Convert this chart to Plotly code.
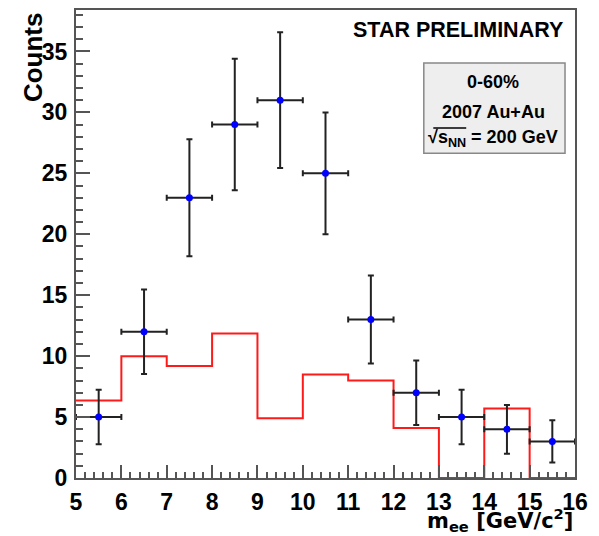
import plotly.graph_objects as go

# Dielectron invariant-mass spectrum: measured counts per 1 GeV/c^2 bin
bin_centers = [5.5, 6.5, 7.5, 8.5, 9.5, 10.5, 11.5, 12.5, 13.5, 14.5, 15.5]
counts = [5, 12, 23, 29, 31, 25, 13, 7, 5, 4, 3]
count_errors = [2.24, 3.46, 4.80, 5.39, 5.57, 5.00, 3.61, 2.65, 2.24, 2.00, 1.73]
bin_half_width = [0.5] * len(bin_centers)

# Red reference histogram (bin edges and bin contents)
hist_edges = [5, 6, 7, 8, 9, 10, 11, 12, 13, 14, 15, 16]
hist_values = [6.35, 10.0, 9.2, 11.85, 4.9, 8.5, 8.0, 4.1, 0.0, 5.7, 0.0]

FONT = "Liberation Sans, Arial, Helvetica, sans-serif"
WIDE_FONT = "DejaVu Sans, Verdana, sans-serif"
AXIS_COLOR = "#555555"

fig = go.Figure()

# step histogram: repeat the last content so the final bin closes at 16
fig.add_trace(go.Scatter(
    x=hist_edges,
    y=hist_values + [hist_values[-1]],
    mode="lines",
    line=dict(shape="hv", color="#ff1a1a", width=2),
    hoverinfo="skip",
    showlegend=False,
))

fig.add_trace(go.Scatter(
    x=bin_centers,
    y=counts,
    mode="markers",
    marker=dict(color="#0000ff", size=7),
    error_y=dict(type="data", array=count_errors, color="#222222",
                 thickness=2, width=3),
    error_x=dict(type="data", array=bin_half_width, color="#222222",
                 thickness=2, width=3),
    showlegend=False,
))

fig.update_xaxes(
    range=[5, 16],
    tickmode="linear", tick0=5, dtick=1,
    ticks="inside", ticklen=13, tickwidth=1.5, tickcolor=AXIS_COLOR,
    minor=dict(ticks="inside", dtick=0.2, ticklen=6, tickwidth=1.5,
               tickcolor=AXIS_COLOR),
    showline=True, linecolor=AXIS_COLOR, linewidth=2, mirror=True,
    showgrid=False, zeroline=False,
    tickfont=dict(family=FONT, size=23, color="black", weight="bold"),
    ticklabelstandoff=2,
)
fig.update_yaxes(
    range=[0, 38.4],
    tickmode="linear", tick0=0, dtick=5,
    ticks="inside", ticklen=14, tickwidth=1.5, tickcolor=AXIS_COLOR,
    minor=dict(ticks="inside", dtick=1, ticklen=7, tickwidth=1.5,
               tickcolor=AXIS_COLOR),
    showline=True, linecolor=AXIS_COLOR, linewidth=2, mirror=True,
    showgrid=False, zeroline=False,
    tickfont=dict(family=FONT, size=23, color="black", weight="bold"),
    ticklabelstandoff=2,
)


def bold(size, family=FONT):
    return dict(family=family, size=size, color="black", weight="bold")


BOX_X = 0.836
annotations = [
    # y-axis title, aligned at the top end of the axis
    dict(text="Counts", x=-0.086, y=1.0, xref="paper", yref="paper",
         xanchor="center", yanchor="top", textangle=-90, showarrow=False,
         font=bold(26)),
    # x-axis title, aligned at the right end of the axis
    dict(text="m<sub>ee</sub> [GeV/c<sup>2</sup>]", x=1.0, y=-0.1255,
         xref="paper", yref="paper", xanchor="right", yanchor="bottom",
         showarrow=False, font=bold(21, WIDE_FONT)),
    dict(text="STAR PRELIMINARY", x=0.98, y=0.957, xref="paper",
         yref="paper", xanchor="right", yanchor="middle", showarrow=False,
         font=bold(21.5)),
    dict(text="0-60%", x=BOX_X, y=0.847, xref="paper", yref="paper",
         xanchor="center", yanchor="middle", showarrow=False, font=bold(18)),
    dict(text="2007 Au+Au", x=BOX_X, y=0.783, xref="paper", yref="paper",
         xanchor="center", yanchor="middle", showarrow=False, font=bold(18)),
    dict(text="\u221As<sub>NN</sub> = 200 GeV", x=BOX_X, y=0.726,
         xref="paper", yref="paper", xanchor="center", yanchor="middle",
         showarrow=False, font=bold(18)),
]

shapes = [
    # info box
    dict(type="rect", xref="paper", yref="paper", x0=0.697, x1=0.980,
         y0=0.694, y1=0.887, fillcolor="#eeeeee",
         line=dict(color="#888888", width=1.5), layer="below"),
    # overline of the square-root sign above s_NN
    dict(type="line", xref="paper", yref="paper", x0=0.716, x1=0.782,
         y0=0.748, y1=0.748, line=dict(color="black", width=1.5)),
]

fig.update_layout(
    width=599, height=536,
    margin=dict(l=76, r=24, t=8, b=58),
    paper_bgcolor="white", plot_bgcolor="white",
    annotations=annotations,
    shapes=shapes,
    showlegend=False,
)

fig.write_html("out.html")
